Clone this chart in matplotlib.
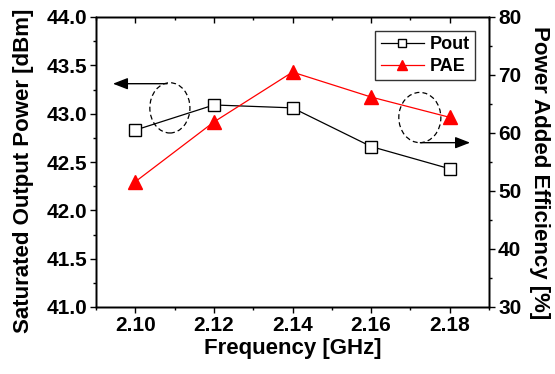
import matplotlib
matplotlib.use("Agg")
import matplotlib.pyplot as plt
from matplotlib.patches import Ellipse
from matplotlib.ticker import MultipleLocator, FormatStrFormatter

freq = [2.10, 2.12, 2.14, 2.16, 2.18]
pout = [42.83, 43.09, 43.06, 42.66, 42.43]
pae = [51.6, 61.9, 70.5, 66.2, 62.7]
xtick_labels = ["2.10", "2.12", "2.14", "2.16", "2.18"]

plt.rcParams["font.family"] = ["Liberation Sans", "DejaVu Sans"]
plt.rcParams["font.weight"] = "bold"

fig = plt.figure(figsize=(5.55, 3.74), dpi=100)
ax = fig.add_axes([96 / 555, 1 - 307 / 374, 393 / 555, 290 / 374])
ax2 = ax.twinx()
ax3 = ax.twiny()  # only for the inward ticks on the top spine

ax.plot(freq, pout, color="black", lw=0.9, marker="s", ms=8,
        mfc="white", mec="black", mew=1.0, label="Pout")
ax2.plot(freq, pae, color="red", lw=0.9, marker="^", ms=10,
         mfc="red", mec="red", label="PAE")

ax.set_xlim(2.09, 2.19)
ax3.set_xlim(2.09, 2.19)
ax.set_ylim(41.0, 44.0)
ax2.set_ylim(30, 80)

ax.set_xticks(freq)
ax.set_xticklabels(xtick_labels)
ax.xaxis.set_minor_locator(MultipleLocator(0.01))
ax3.set_xticks(freq)
ax3.xaxis.set_minor_locator(MultipleLocator(0.01))
ax3.set_xticklabels([])
ax.yaxis.set_major_locator(MultipleLocator(0.5))
ax.yaxis.set_minor_locator(MultipleLocator(0.25))
ax.yaxis.set_major_formatter(FormatStrFormatter("%.1f"))
ax2.yaxis.set_major_locator(MultipleLocator(10))
ax2.yaxis.set_minor_locator(MultipleLocator(5))

for a in (ax, ax2):
    a.tick_params(which="major", length=4.5, width=1.0, labelsize=15, pad=2)
    a.tick_params(which="minor", length=2.5, width=1.0)
ax3.tick_params(which="major", direction="in", length=4.5, width=1.0)
ax3.tick_params(which="minor", direction="in", length=2.5, width=1.0)

for a in (ax, ax2, ax3):
    for s in a.spines.values():
        s.set_linewidth(1.0)

ax.set_xlabel("Frequency [GHz]", fontsize=16, fontweight="bold", labelpad=2)
ax.set_ylabel("Saturated Output Power [dBm]", fontsize=16, fontweight="bold", labelpad=9)
ax2.set_ylabel("Power Added Efficiency [%]", fontsize=16, fontweight="bold",
               rotation=270, labelpad=21)
ax.yaxis.label.set_y(0.47)
ax2.yaxis.label.set_y(0.465)

h1, l1 = ax.get_legend_handles_labels()
h2, l2 = ax2.get_legend_handles_labels()
leg = ax3.legend(h1 + h2, l1 + l2, loc="upper right", bbox_to_anchor=(0.964, 0.952),
                 fontsize=13, frameon=True, fancybox=False, edgecolor="black",
                 handlelength=2.4, borderpad=0.3, labelspacing=0.25,
                 handletextpad=0.3, borderaxespad=0.0, markerscale=0.75)
leg.get_frame().set_linewidth(1.0)
for t in leg.get_texts():
    t.set_fontweight("bold")

# annotation ellipses and arrows (left -> Pout axis, right -> PAE axis)
arrow = dict(arrowstyle="-|>,head_length=0.9,head_width=0.35",
             color="black", lw=1.0, fc="black")
ax.add_patch(Ellipse((2.1088, 43.06), 0.0102, 0.52, fill=False,
                     ls=(0, (4, 2.5)), lw=0.9, ec="black"))
ax.annotate("", xy=(2.0936, 43.31), xytext=(2.1088, 43.31), arrowprops=arrow)
ax.add_patch(Ellipse((2.1724, 42.96), 0.0107, 0.52, fill=False,
                     ls=(0, (4, 2.5)), lw=0.9, ec="black"))
ax.annotate("", xy=(2.1859, 42.70), xytext=(2.1719, 42.70), arrowprops=arrow)

fig.savefig("out.png", dpi=100)
